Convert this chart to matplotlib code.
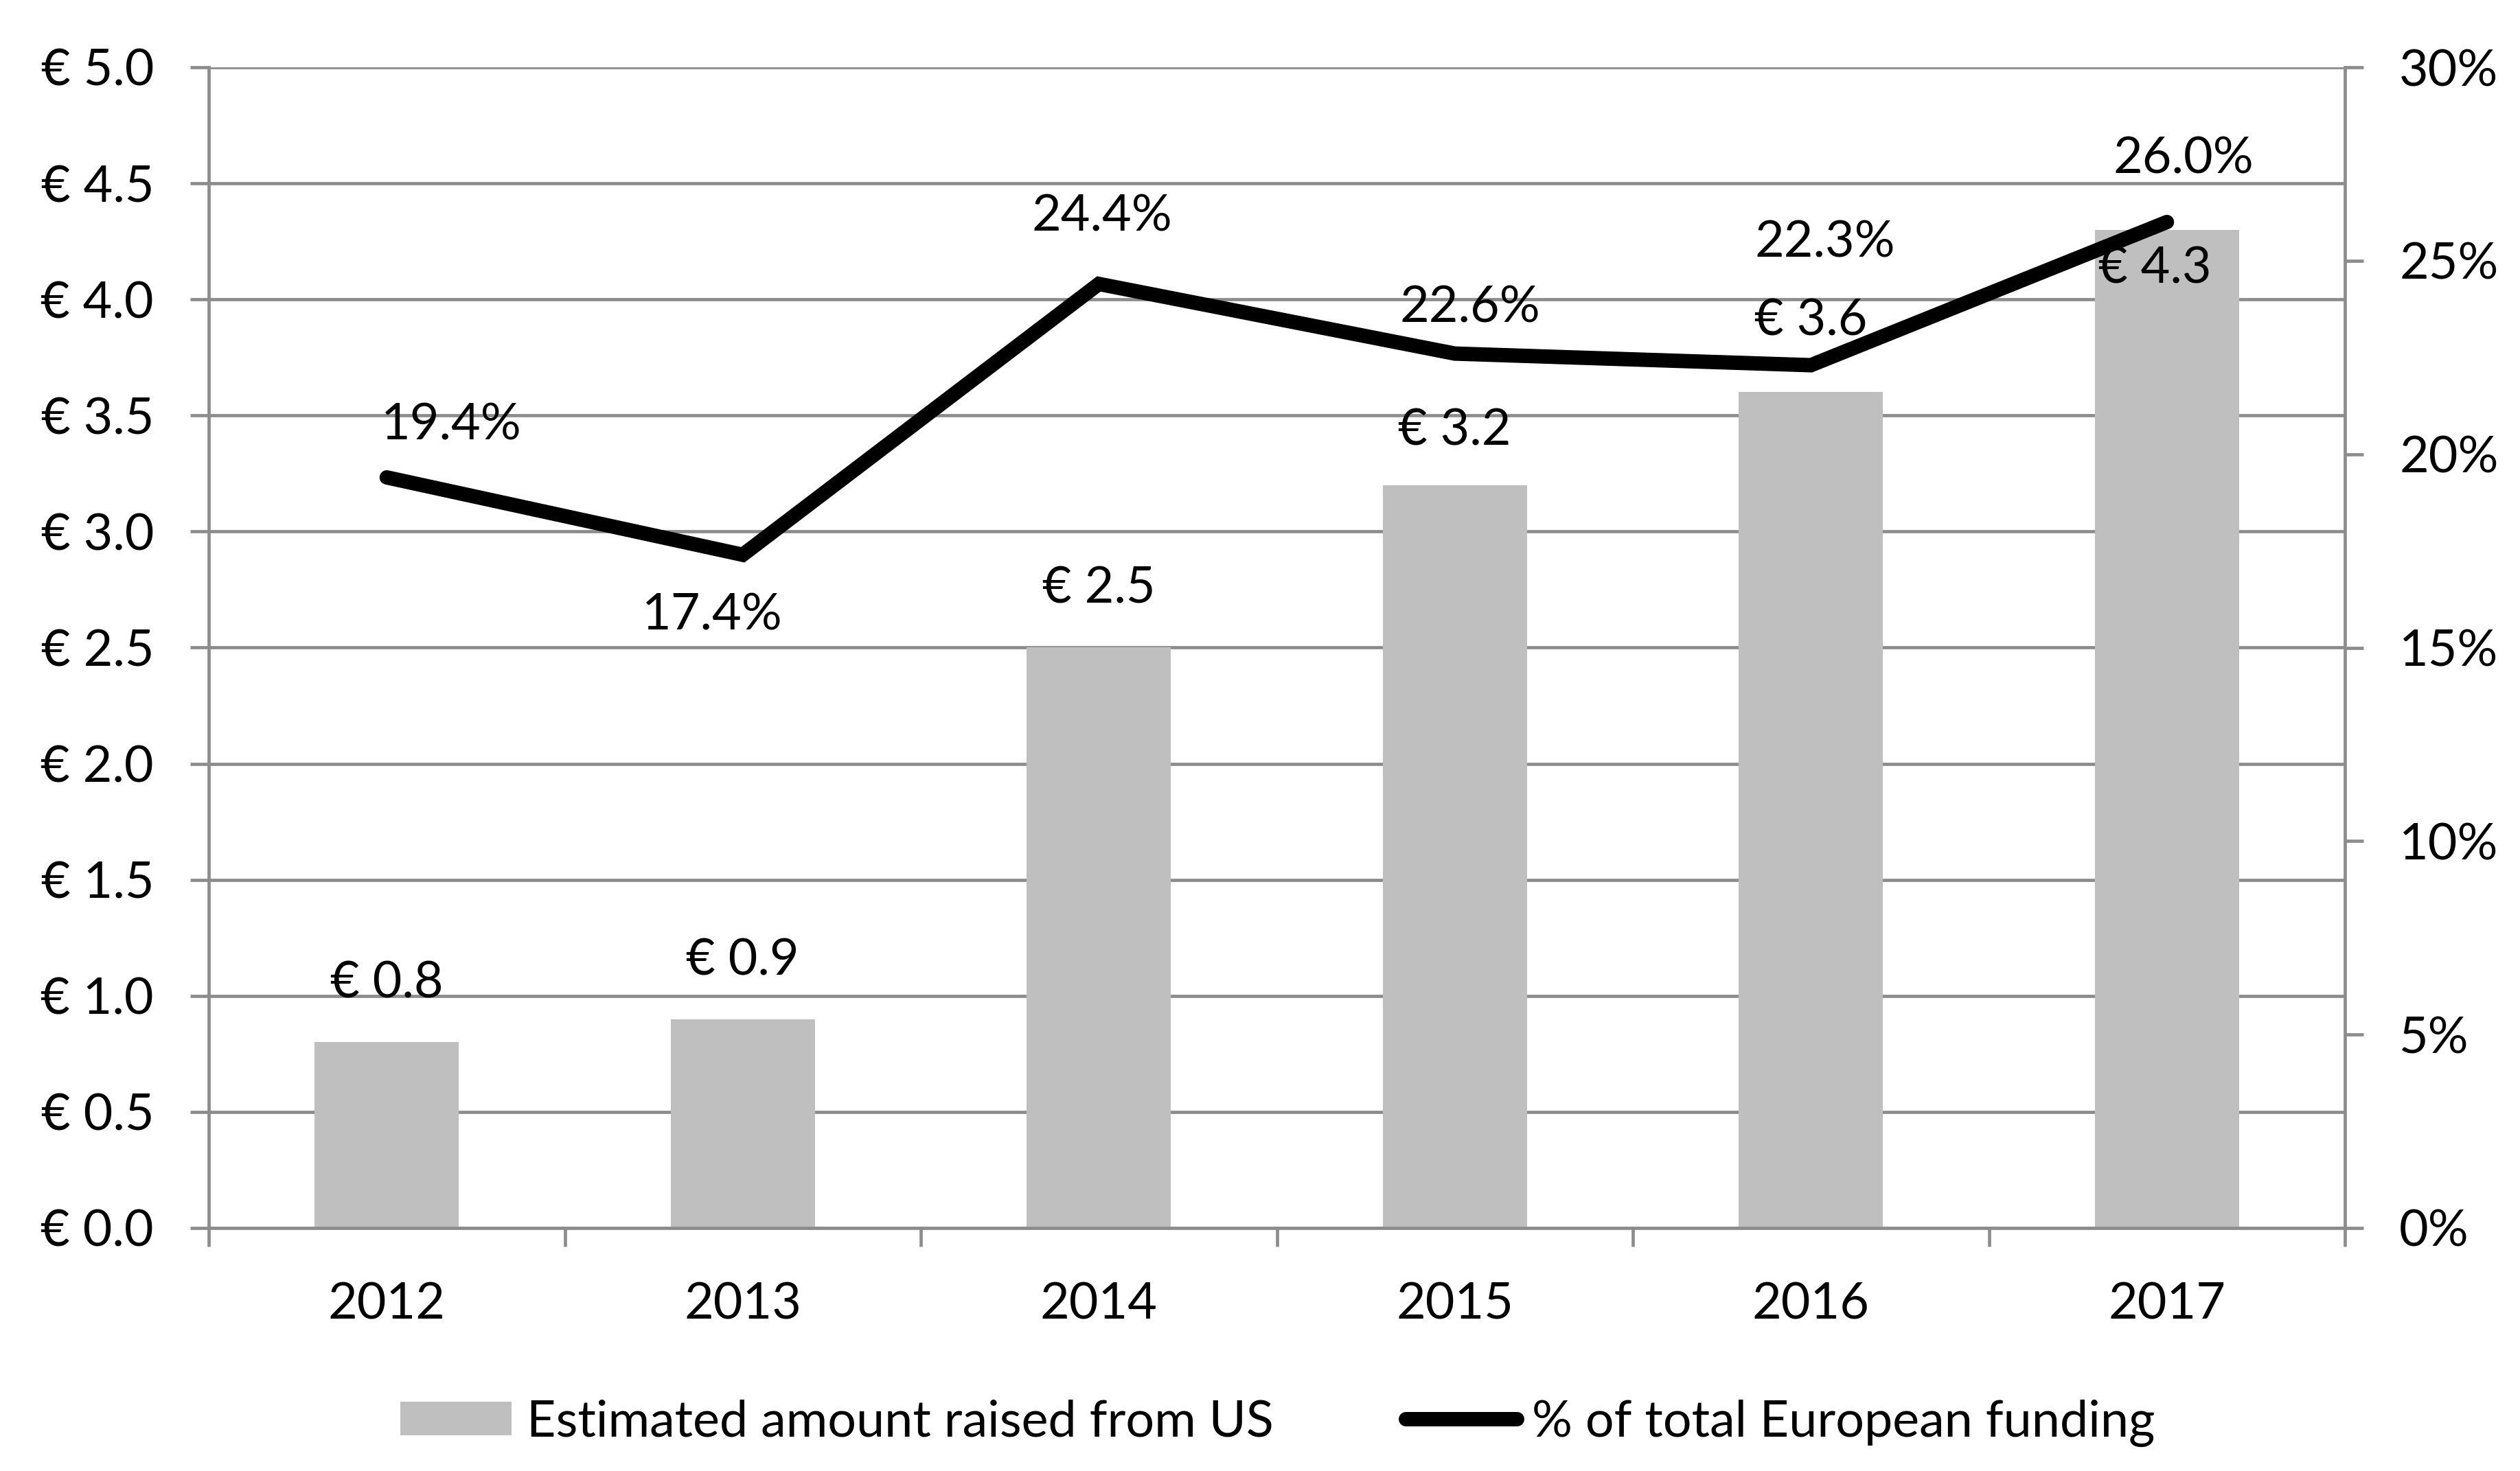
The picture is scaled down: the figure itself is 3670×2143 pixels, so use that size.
import matplotlib
matplotlib.use("Agg")
import matplotlib.pyplot as plt
import numpy as np
from matplotlib.lines import Line2D
from matplotlib.patches import Patch
from matplotlib.ticker import FuncFormatter, FixedLocator

plt.rcParams["font.family"] = ["Lato", "DejaVu Sans"]
plt.rcParams["font.size"] = 26.5

years = ["2012", "2013", "2014", "2015", "2016", "2017"]
amounts = [0.8, 0.9, 2.5, 3.2, 3.6, 4.3]          # EUR bn, raised from US
shares = [19.4, 17.4, 24.4, 22.6, 22.3, 26.0]     # % of total European funding

bar_label = "Estimated amount raised from US"
line_label = "% of total European funding"

GRID = "#8c8c8c"
BAR = "#bfbfbf"
DPI = 200
PX = 72 / DPI  # one pixel in points

# manual label offsets (pixels), like the hand-placed labels in the original
amount_offsets = [(0, 85), (0, 85), (0, 85), (0, 79), (0, 103), (-18, -57)]
share_offsets = [(94, 75), (-44, -89), (5, 98), (22, 66), (21, 178), (24, 91)]

fig = plt.figure(figsize=(3670 / DPI, 2143 / DPI), dpi=DPI)
ax = fig.add_axes([304 / 3670, 1 - 1789 / 2143, (3415 - 304) / 3670, (1789 - 98) / 2143])
ax2 = ax.twinx()

x = np.arange(len(years))
ax.bar(x, amounts, width=0.405, color=BAR, zorder=2)
ax.set_xlim(-0.5, len(years) - 0.5)
ax.set_ylim(0, 5)
ax.set_yticks(np.arange(0, 5.01, 0.5))
ax.yaxis.set_major_formatter(FuncFormatter(lambda v, _: f"\u20ac {v:.1f}"))
ax.set_axisbelow(True)
ax.grid(axis="y", color=GRID, linewidth=4.7 * PX)

ax.xaxis.set_major_locator(FixedLocator(np.arange(-0.5, len(years), 1)))
ax.xaxis.set_minor_locator(FixedLocator(x))
ax.xaxis.set_major_formatter(FuncFormatter(lambda v, _: ""))
ax.set_xticklabels(years, minor=True)
ax.tick_params(axis="x", which="major", direction="out", length=27 * PX,
               width=4.7 * PX, color=GRID)
ax.tick_params(axis="x", which="minor", length=0, pad=79 * PX)
ax.tick_params(axis="y", direction="out", length=27 * PX, width=4.7 * PX,
               color=GRID, pad=53 * PX)

for s in ["top", "right"]:
    ax.spines[s].set_visible(False)
for s in ["left", "bottom"]:
    ax.spines[s].set_color(GRID)
    ax.spines[s].set_linewidth(4.7 * PX)

ax2.plot(x, shares, color="black", linewidth=21 * PX,
         solid_capstyle="round", solid_joinstyle="miter", zorder=3)
ax2.set_ylim(0, 30)
ax2.set_yticks(np.arange(0, 31, 5))
ax2.yaxis.set_major_formatter(FuncFormatter(lambda v, _: f"{v:.0f}%"))
ax2.tick_params(axis="y", direction="out", length=27 * PX, width=4.7 * PX,
                color=GRID, pad=52 * PX)
for s in ["top", "left", "bottom"]:
    ax2.spines[s].set_visible(False)
ax2.spines["right"].set_color(GRID)
ax2.spines["right"].set_linewidth(4.7 * PX)

for i, v in enumerate(amounts):
    dx, dy = amount_offsets[i]
    ax2.annotate(f"\u20ac {v:.1f}", xy=(i, v), xycoords=ax.transData,
                 xytext=(dx * PX, dy * PX), textcoords="offset points",
                 ha="center", va="center", zorder=4)

for i, v in enumerate(shares):
    dx, dy = share_offsets[i]
    ax2.annotate(f"{v:.1f}%", xy=(i, v), xycoords="data",
                 xytext=(dx * PX, dy * PX), textcoords="offset points",
                 ha="center", va="center", zorder=4)

handles = [Patch(facecolor=BAR, edgecolor="none"),
           Line2D([0], [0], color="black", linewidth=21 * PX, solid_capstyle="round")]
fig.legend(handles, [bar_label, line_label], loc="center",
           bbox_to_anchor=(0.507, 1 - 2073 / 2143), ncol=2, frameon=False,
           handlelength=2.2, handleheight=0.64, handletextpad=0.3,
           columnspacing=2.6)

fig.savefig("out.png", dpi=DPI)
